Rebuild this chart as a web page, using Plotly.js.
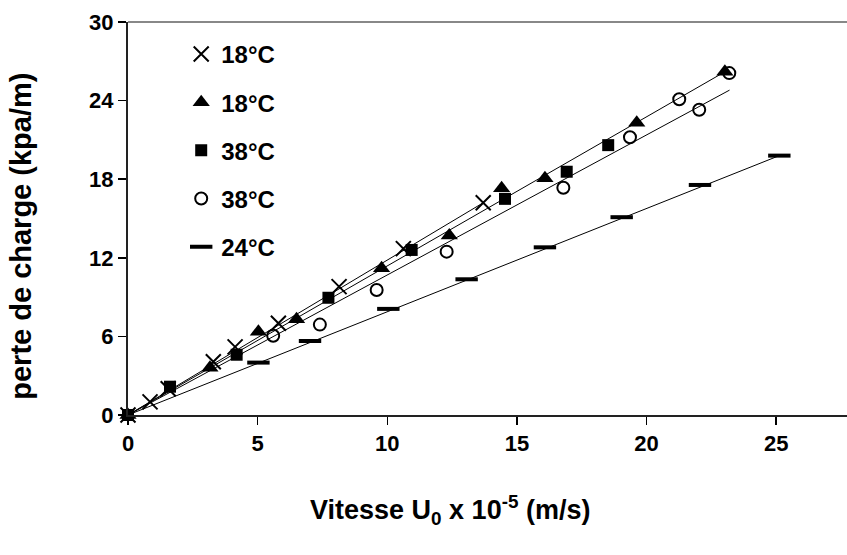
<!DOCTYPE html>
<html>
<head>
<meta charset="utf-8">
<script src="https://cdn.plot.ly/plotly-3.0.1.min.js"></script>
<style>html,body{margin:0;padding:0;background:#fff;}#chart{width:847px;height:555px;}</style>
</head>
<body>
<div id="chart"></div>
<script>
// Data
var legendLabels = ["18°C", "18°C", "38°C", "38°C", "24°C"];
var xTitle = "Vitesse U<sub>0</sub> x 10<sup>-5</sup> (m/s)";
var yTitle = "perte de charge (kpa/m)";

var x18cross = [0, 0.85, 1.55, 3.29, 4.13, 5.8, 8.14, 10.62, 13.7];
var y18cross = [0, 1.0, 2.0, 4.07, 5.2, 7.0, 9.8, 12.7, 16.2];

var x18tri = [0, 3.16, 5.03, 6.5, 9.78, 12.39, 14.41, 16.08, 19.62, 23.02];
var y18tri = [0, 3.6, 6.36, 7.3, 11.2, 13.7, 17.3, 18.07, 22.3, 26.2];

var x38sq = [0, 1.62, 4.19, 7.73, 10.94, 14.54, 16.92, 18.52];
var y38sq = [0, 2.16, 4.6, 8.95, 12.6, 16.5, 18.57, 20.6];

var x38circ = [5.6, 7.4, 9.59, 12.29, 16.79, 19.36, 21.26, 22.03, 23.19];
var y38circ = [6.05, 6.9, 9.54, 12.47, 17.35, 21.2, 24.1, 23.3, 26.1];

var x24 = [5.03, 7.02, 10.04, 13.06, 16.08, 19.04, 22.06, 25.12];
var y24 = [4.0, 5.65, 8.1, 10.36, 12.8, 15.1, 17.56, 19.8];

// Trend lines (end points)
var fitX18cross = [0, 13.7],  fitY18cross = [0, 16.2];
var fitX18tri   = [0, 23.02], fitY18tri   = [0, 26.2];
var fitX38      = [0, 23.2],  fitY38      = [0, 24.8];
var fitX24      = [0, 25.12], fitY24      = [0, 19.8];

var yTicks = [0, 6, 12, 18, 24, 30];
var xTicks = [0, 5, 10, 15, 20, 25];

var FONT = "Liberation Sans, Arial, sans-serif";

function fit(x, y) {
  return {x: x, y: y, mode: "lines", type: "scatter", showlegend: false,
          hoverinfo: "skip", line: {color: "#000", width: 1}, cliponaxis: false};
}
function pts(x, y, name, grp, marker) {
  return {x: x, y: y, mode: "markers", type: "scatter", name: name,
          legendgroup: grp, marker: marker, cliponaxis: false};
}

var traces = [
  fit(fitX18cross, fitY18cross),
  fit(fitX18tri, fitY18tri),
  fit(fitX38, fitY38),
  fit(fitX24, fitY24),
  pts(x18cross, y18cross, legendLabels[0], "g1",
      {symbol: "x-thin", size: 15, color: "#000", line: {color: "#000", width: 2}}),
  pts(x18tri, y18tri, legendLabels[1], "g2",
      {symbol: "triangle-up", size: 15, color: "#000"}),
  pts(x38sq, y38sq, legendLabels[2], "g3",
      {symbol: "square", size: 12, color: "#000"}),
  pts(x38circ, y38circ, legendLabels[3], "g4",
      {symbol: "circle-open", size: 12, color: "#000", line: {color: "#000", width: 2}}),
  pts(x24, y24, legendLabels[4], "g5",
      {symbol: "line-ew", size: 16, color: "#000", line: {color: "#000", width: 4}})
];

var layout = {
  width: 847, height: 555,
  margin: {l: 128, r: 0, t: 22, b: 140},
  paper_bgcolor: "#fff", plot_bgcolor: "#fff",
  font: {family: FONT, color: "#000"},
  showlegend: true,
  legend: {
    x: 0.074, y: 0.975, xanchor: "left", yanchor: "top",
    bgcolor: "rgba(0,0,0,0)", borderwidth: 0,
    font: {family: FONT, size: 24, weight: "bold", color: "#000"},
    traceorder: "grouped", tracegroupgap: 14, itemwidth: 30
  },
  xaxis: {
    range: [0, 27.73], tickvals: xTicks, ticktext: xTicks.map(String),
    showgrid: false, zeroline: false,
    showline: true, linecolor: "#222", linewidth: 2,
    ticks: "outside", ticklen: 8, tickwidth: 1.5, tickcolor: "#000",
    tickfont: {family: FONT, size: 22, weight: "bold", color: "#000"},
    automargin: false
  },
  yaxis: {
    range: [0, 30], tickvals: yTicks, ticktext: yTicks.map(String),
    showgrid: false, zeroline: false,
    showline: true, linecolor: "#222", linewidth: 2,
    ticks: "outside", ticklen: 8, tickwidth: 1.5, tickcolor: "#000",
    tickfont: {family: FONT, size: 22, weight: "bold", color: "#000"},
    automargin: false
  },
  annotations: [
    {text: xTitle, xref: "paper", yref: "paper", x: 0.448, y: -0.242,
     xanchor: "center", yanchor: "middle", showarrow: false,
     font: {family: FONT, size: 27, weight: "bold", color: "#000"}},
    {text: yTitle, xref: "paper", yref: "paper", x: -0.15, y: 0.454,
     xanchor: "center", yanchor: "middle", showarrow: false, textangle: -90,
     font: {family: FONT, size: 29, weight: "bold", color: "#000"}}
  ],
  shapes: [{type: "line", xref: "paper", yref: "paper", x0: 0, x1: 1, y0: 1, y1: 1,
            line: {color: "#888", width: 2}}]
};

Plotly.newPlot("chart", traces, layout, {displayModeBar: false, staticPlot: true});
</script>
</body>
</html>
